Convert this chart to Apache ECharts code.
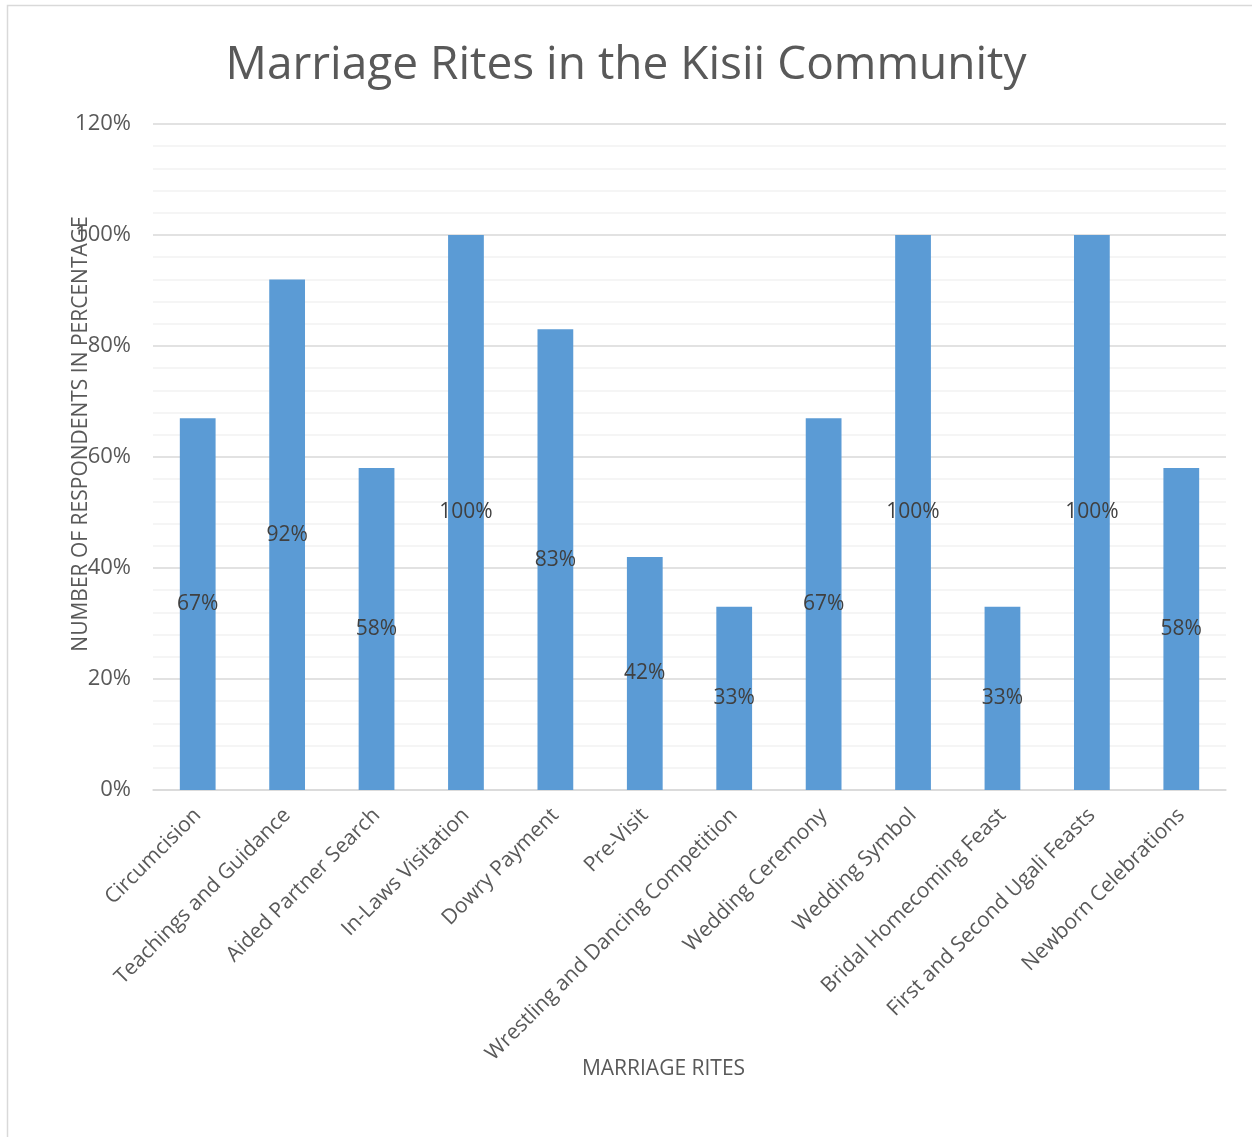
<!DOCTYPE html>
<html>
<head>
<meta charset="utf-8">
<script src="https://cdn.jsdelivr.net/npm/echarts@6/dist/echarts.min.js"></script>
<style>
  html, body { margin: 0; padding: 0; background: #fff; }
  #chart { width: 1252px; height: 1137px; }
</style>
</head>
<body>
<div id="chart"></div>
<script>
const rites = [
  'Circumcision',
  'Teachings and Guidance',
  'Aided Partner Search',
  'In-Laws Visitation',
  'Dowry Payment',
  'Pre-Visit',
  'Wrestling and Dancing Competition',
  'Wedding Ceremony',
  'Wedding Symbol',
  'Bridal Homecoming Feast',
  'First and Second Ugali Feasts',
  'Newborn Celebrations'
]
const respondents = [67, 92, 58, 100, 83, 42, 33, 67, 100, 33, 100, 58]
const yTicks = [0, 20, 40, 60, 80, 100, 120]

const font = '"Open Sans", "Noto Sans", sans-serif'
const chart = echarts.init(document.getElementById('chart'))

chart.setOption({
  animation: false,
  textStyle: { fontFamily: font },
  title: {
    text: 'Marriage Rites in the Kisii Community',
    left: 'center',
    top: 38,
    textStyle: {
      fontFamily: font,
      fontSize: 46,
      fontWeight: 'normal',
      color: '#595959'
    }
  },
  graphic: [{
    type: 'rect',
    silent: true,
    shape: { x: 7.5, y: 5.5, width: 1400, height: 1400 },
    style: { fill: 'none', stroke: '#d9d9d9', lineWidth: 1.5 }
  }],
  grid: {
    left: 153,
    right: 26,
    top: 124,
    bottom: 347
  },
  xAxis: {
    type: 'category',
    data: rites,
    name: 'MARRIAGE RITES',
    nameLocation: 'middle',
    nameGap: 269,
    nameMoveOverlap: false,
    nameTextStyle: {
      fontSize: 21,
      color: '#595959',
      padding: [0, 52, 0, 0]
    },
    axisTick: { show: false },
    axisLine: { lineStyle: { color: '#d9d9d9', width: 1.5 } },
    axisLabel: {
      rotate: 45,
      interval: 0,
      margin: 22,
      fontSize: 21,
      color: '#595959'
    }
  },
  yAxis: {
    type: 'value',
    min: yTicks[0],
    max: yTicks[yTicks.length - 1],
    interval: 20,
    name: 'NUMBER OF RESPONDENTS IN PERCENTAGE',
    nameLocation: 'middle',
    nameGap: 61,
    nameMoveOverlap: false,
    nameTextStyle: {
      fontSize: 21,
      color: '#595959',
      padding: [0, 0, 0, 46]
    },
    axisLine: { show: false },
    axisTick: { show: false },
    axisLabel: {
      formatter: '{value}%',
      fontSize: 22,
      margin: 22,
      color: '#595959'
    },
    splitLine: { lineStyle: { color: '#d9d9d9', width: 1.5 } },
    minorTick: { show: false, splitNumber: 5 },
    minorSplitLine: { show: true, lineStyle: { color: '#f2f2f2', width: 1.5 } }
  },
  series: [{
    type: 'bar',
    data: respondents,
    barCategoryGap: '60%',
    itemStyle: { color: '#5b9bd5' },
    label: {
      show: true,
      position: 'inside',
      formatter: '{c}%',
      fontSize: 21,
      color: '#404040'
    }
  }]
})
</script>
</body>
</html>
